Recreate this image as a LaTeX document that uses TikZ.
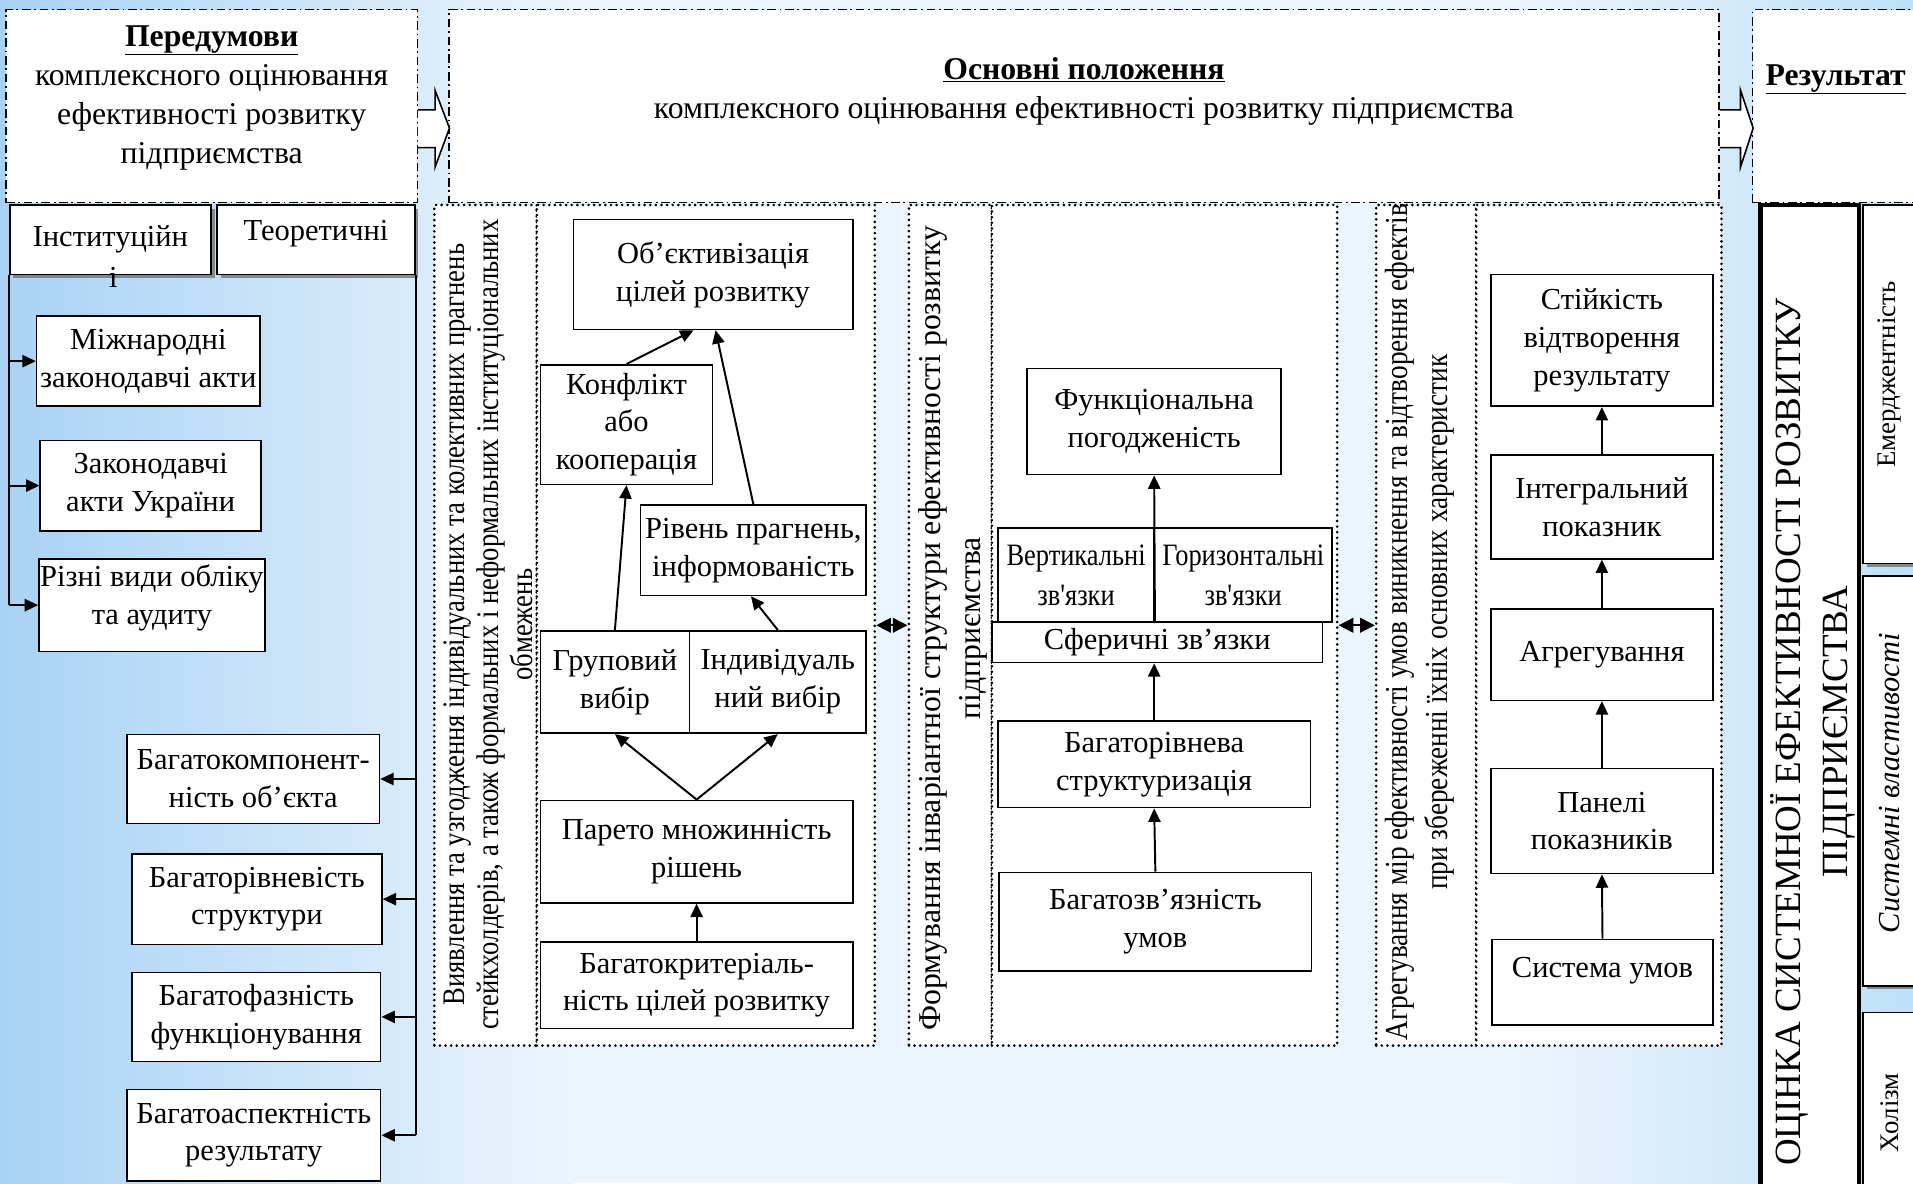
\documentclass[tikz,border=0pt]{standalone}
\usepackage{fontspec}
\setmainfont{Liberation Serif}
\newfontfamily\narrowfont[FakeStretch=0.85]{Liberation Serif}
\usetikzlibrary{arrows.meta,shadows,calc}
\newcommand{\fsz}[2]{\fontsize{#1}{#2}\selectfont}
\definecolor{bgL}{RGB}{168,210,244}
\definecolor{bgM}{RGB}{236,245,253}
\definecolor{bgR}{RGB}{190,224,248}
\begin{document}
\begin{tikzpicture}[x=1pt,y=-1pt,
  wh/.style 2 args={minimum width=#1pt, minimum height=#2pt},
  box/.style={draw, fill=white, line width=1.3pt, align=center, inner sep=1pt, font=\fsz{25}{31}},
  sbox/.style={box, drop shadow={shadow xshift=3pt, shadow yshift=-3pt, fill=black!60, opacity=0.7}},
  ddbox/.style={draw, fill=white, line width=1.2pt, dash pattern=on 7pt off 3pt on 1.5pt off 3pt},
  panel/.style={draw, fill=white, line width=2.4pt, line cap=round, dash pattern=on 0pt off 4.6pt},
  conn/.style={line width=1.6pt},
  arr/.style={line width=1.6pt, -{Triangle[length=11pt,width=10pt]}},
  dbl/.style={line width=1.6pt, {Triangle[length=12pt,width=12pt]}-{Triangle[length=12pt,width=12pt]}},
  blockarr/.style={draw, fill=white, line width=1.3pt, line join=miter},
]
\useasboundingbox (0,0) rectangle (1568,970);
\clip (0,0) rectangle (1568,970);
\shade[left color=bgL, right color=bgM] (0,0) rectangle (470,970);
\fill[bgM] (469,0) rectangle (1241,970);
\shade[left color=bgM, right color=bgR] (1240,0) rectangle (1568,970);

% ---------- top boxes ----------
\node[ddbox, wh={337}{158}] (pre) at (173.5,87) {};
\node[font=\fsz{26}{32}, align=center] (pret) at (173.5,80)
  {\underline{\textbf{Передумови}}\\комплексного оцінювання\\ефективності розвитку\\підприємства};
\node[ddbox, wh={1041}{158}] (osn) at (888.5,87) {};
\node[font=\fsz{26}{32}, align=center] (osnt) at (888.5,75)
  {\underline{\textbf{Основні положення}}\\комплексного оцінювання ефективності розвитку підприємства};
\node[ddbox, wh={150}{158}, anchor=west] (res) at (1436,87) {};
\node[font=\fsz{26}{32}, anchor=west, inner sep=0] (rest) at (1447,65) {\underline{\textbf{Результат}}};

\draw[blockarr] ($(pre.east)+(0,3)$) -- ($(pre.east)+(14,3)$) -- ($(pre.east)+(14,-13)$)
  -- ($(osn.west)+(1,18)$) -- ($(pre.east)+(14,50)$) -- ($(pre.east)+(14,34)$) -- ($(pre.east)+(0,34)$);
\draw[blockarr] ($(osn.east)+(0,3)$) -- ($(osn.east)+(17,3)$) -- ($(osn.east)+(17,-13)$)
  -- ($(res.west)+(1,18)$) -- ($(osn.east)+(17,50)$) -- ($(osn.east)+(17,34)$) -- ($(osn.east)+(0,34)$);

% ---------- left column ----------
\node[sbox, wh={165}{57}] (inst) at (90.5,196.5) {Інституційн};
\node[font=\fsz{25}{31}, inner sep=0] (insti) at (93,227) {і};
\node[sbox, wh={162}{57}] (teor) at (259,196.5) {\raisebox{5pt}[\height][\depth]{Теоретичні}};

\node[box, wh={183}{74}] (mizh) at (121.5,296) {Міжнародні\\законодавчі акти};
\node[box, wh={181}{74}] (zak) at (123.5,398) {Законодавчі\\акти України};
\node[box, wh={183}{76}] (rizni) at (124.5,496) {\raisebox{6pt}[\height][\depth]{Різні види обліку}\\\raisebox{6pt}[\height][\depth]{та аудиту}};

\node[box, wh={207}{73}] (bk) at (207.5,638.5) {Багатокомпонент-\\ність об'єкта};
\node[box, wh={205}{74}] (br) at (210.5,737) {Багаторівневість\\структури};
\node[box, wh={204}{73}] (bf) at (210,833.5) {Багатофазність\\функціонування};
\node[box, wh={208}{75}] (ba) at (208,930.5) {Багатоаспектність\\результату};

\draw[conn] (inst.south west) -- (inst.south west |- rizni.west);
\draw[arr] (inst.south west |- mizh.west) -- (mizh.west);
\draw[arr] (inst.south west |- zak.west) -- (zak.west);
\draw[arr] (inst.south west |- rizni.west) -- (rizni.west);

\draw[conn] (teor.south east) -- (teor.south east |- ba.east);
\draw[arr] (teor.east |- bk.east) -- (bk.east);
\draw[arr] (teor.east |- br.east) -- (br.east);
\draw[arr] (teor.east |- bf.east) -- (bf.east);
\draw[arr] (teor.east |- ba.east) -- (ba.east);

% ---------- middle panels ----------
\node[panel, wh={84}{689}] (p1) at (398,512.5) {};
\node[panel, wh={277}{689}] (p2) at (578.5,512.5) {};
\node[panel, wh={68}{689}] (p3) at (779,512.5) {};
\node[panel, wh={283}{689}] (p4) at (954.5,512.5) {};
\node[panel, wh={82}{689}] (p5) at (1169,512.5) {};
\node[panel, wh={201}{689}] (p6) at (1310.5,512.5) {};

\node[rotate=90, align=center, font=\narrowfont\fsz{25.7}{28}] (p1t) at (400,512)
  {Виявлення та узгодження індивідуальних та колективних прагнень\\стейкхолдерів, а також формальних і неформальних інституціональних\\обмежень};
\node[rotate=90, align=center, font=\fsz{26}{32}] (p3t) at (781,515)
  {Формування інваріантної структури ефективності розвитку\\підприємства};
\node[rotate=90, align=center, font=\narrowfont\fsz{26.3}{33}] (p5t) at (1164,510)
  {Агрегування мір ефективності умов виникнення та відтворення ефектів\\при збереженні їхніх основних характеристик};

\draw[dbl] (p2.east) -- (p3.west);
\draw[dbl] (p4.east) -- (p5.west);

% panel 2
\node[box, wh={229}{90}] (obj) at (584.5,225) {Об'єктивізація\\цілей розвитку};
\node[box, wh={141}{98}] (konf) at (513.5,348) {Конфлікт\\або\\кооперація};
\node[box, wh={185}{74}] (riv) at (617.5,451) {Рівень прагнень,\\інформованість};
\node[box, wh={122}{84}] (grp) at (504,559) {Груповий\\вибір};
\node[box, wh={145}{84}] (ind) at (637.5,559) {Індивідуаль\\ний вибір};
\node[box, wh={256}{84}] (par) at (571,698) {Парето множинність\\рішень};
\node[box, wh={256}{71}] (bkr) at (571,807.5) {Багатокритеріаль-\\ність цілей розвитку};

\draw[arr] (bkr.north) -- (par.south);
\draw[arr] (par.north) -- (grp.south);
\draw[arr] (par.north) -- (ind.south);
\draw[arr] (grp.north) -- (konf.south);
\draw[arr] (ind.north) -- ([xshift=-2pt]riv.south);
\draw[arr] (konf.north) -- ([xshift=-16pt]obj.south);
\draw[arr] (riv.north) -- ([xshift=2pt]obj.south);

% panel 4
\node[box, wh={208}{87}] (fun) at (946,345.5) {Функціональна\\погодженість};
\node[box, wh={128}{77}, font=\narrowfont\fsz{25.5}{33}] (vert) at (882,471.5) {Вертикальні\\зв'язки};
\node[box, wh={146}{77}, font=\narrowfont\fsz{25.5}{33}] (hor) at (1019,471.5) {Горизонтальні\\зв'язки};
\node[box, wh={271}{33}] (sfer) at (948.5,526.5) {Сферичні зв'язки};
\node[box, wh={256}{71}] (bstr) at (946,626.5) {Багаторівнева\\структуризація};
\node[box, wh={256}{81}] (bzv) at (947,755.5) {Багатозв’язність\\умов};

\draw[arr] (bzv.north) -- (bstr.south);
\draw[arr] (bstr.north) -- (bstr.north |- sfer.south);
\draw[arr] (vert.south east) -- (fun.south);

% panel 6
\node[box, wh={182}{108}] (st) at (1313,279) {Стійкість\\відтворення\\результату};
\node[box, wh={182}{85}] (int) at (1313,415.5) {Інтегральний\\показник};
\node[box, wh={182}{75}] (agr) at (1313,536.5) {Агрегування};
\node[box, wh={182}{86}] (pan) at (1313,673) {Панелі\\показників};
\node[box, wh={181}{70}] (sys) at (1313.5,805) {\raisebox{9pt}[\height][\depth]{Система умов}};

\draw[arr] (sys.north) -- (pan.south);
\draw[arr] (pan.north) -- (agr.south);
\draw[arr] (agr.north) -- (int.south);
\draw[arr] (int.north) -- (st.south);

% ---------- right column ----------
\node[draw, fill=white, line width=3.5pt, wh={81}{812}] (ocin) at (1483.5,574) {};
\node[rotate=90, align=center, font=\fsz{30.3}{38}] (ocint) at (1486,600)
  {ОЦІНКА СИСТЕМНОЇ ЕФЕКТИВНОСТІ РОЗВИТКУ\\ПІДПРИЄМСТВА};

\node[sbox, wh={48}{294}] (emer) at (1551,315) {};
\node[rotate=90, font=\fsz{22}{28}] (emert) at (1549,307) {Емерджентність};
\node[sbox, wh={48}{336}] (sysv) at (1551,640) {};
\node[rotate=90, font=\fsz{25}{28}\itshape] (sysvt) at (1549,642) {Системні властивості};
\node[sbox, wh={48}{150}] (hol) at (1551,905) {};
\node[rotate=90, font=\fsz{22}{28}] (holt) at (1549,912) {Холізм};
\end{tikzpicture}
\end{document}
